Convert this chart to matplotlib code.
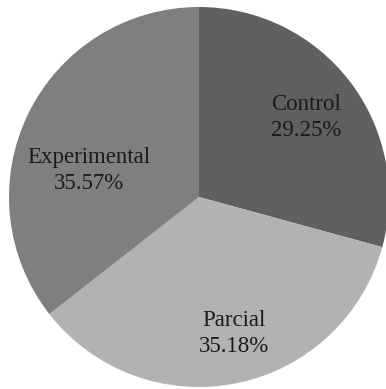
import matplotlib
matplotlib.use("Agg")
import matplotlib.pyplot as plt

# group shares (percent)
groups = ["Control", "Parcial", "Experimental"]
shares = [29.25, 35.18, 35.57]
colors = ["#606060", "#b2b2b2", "#7f7f7f"]

# where each label sits inside its wedge (data coords, pie radius = 1)
label_pos = [(0.565, 0.42), (0.185, -0.72), (-0.58, 0.14)]

plt.rcParams["font.family"] = ["Liberation Serif", "DejaVu Serif"]

W, H = 386, 389
cx, cy, r = 199, 197, 190
fig = plt.figure(figsize=(W / 100, H / 100), dpi=100)
ax = fig.add_axes([(cx - r) / W, (H - cy - r) / H, 2 * r / W, 2 * r / H])

ax.pie(shares, colors=colors, startangle=90, counterclock=False, radius=1,
       wedgeprops=dict(linewidth=0))

for name, val, (x, y) in zip(groups, shares, label_pos):
    ax.text(x, y, "%s\n%.2f%%" % (name, val), ha="center", va="center",
            fontsize=16.5, color="#1a1a1a", linespacing=1.3)

ax.set_xlim(-1, 1)
ax.set_ylim(-1, 1)
ax.set_aspect("equal")
ax.axis("off")

fig.savefig("out.png", dpi=100)
